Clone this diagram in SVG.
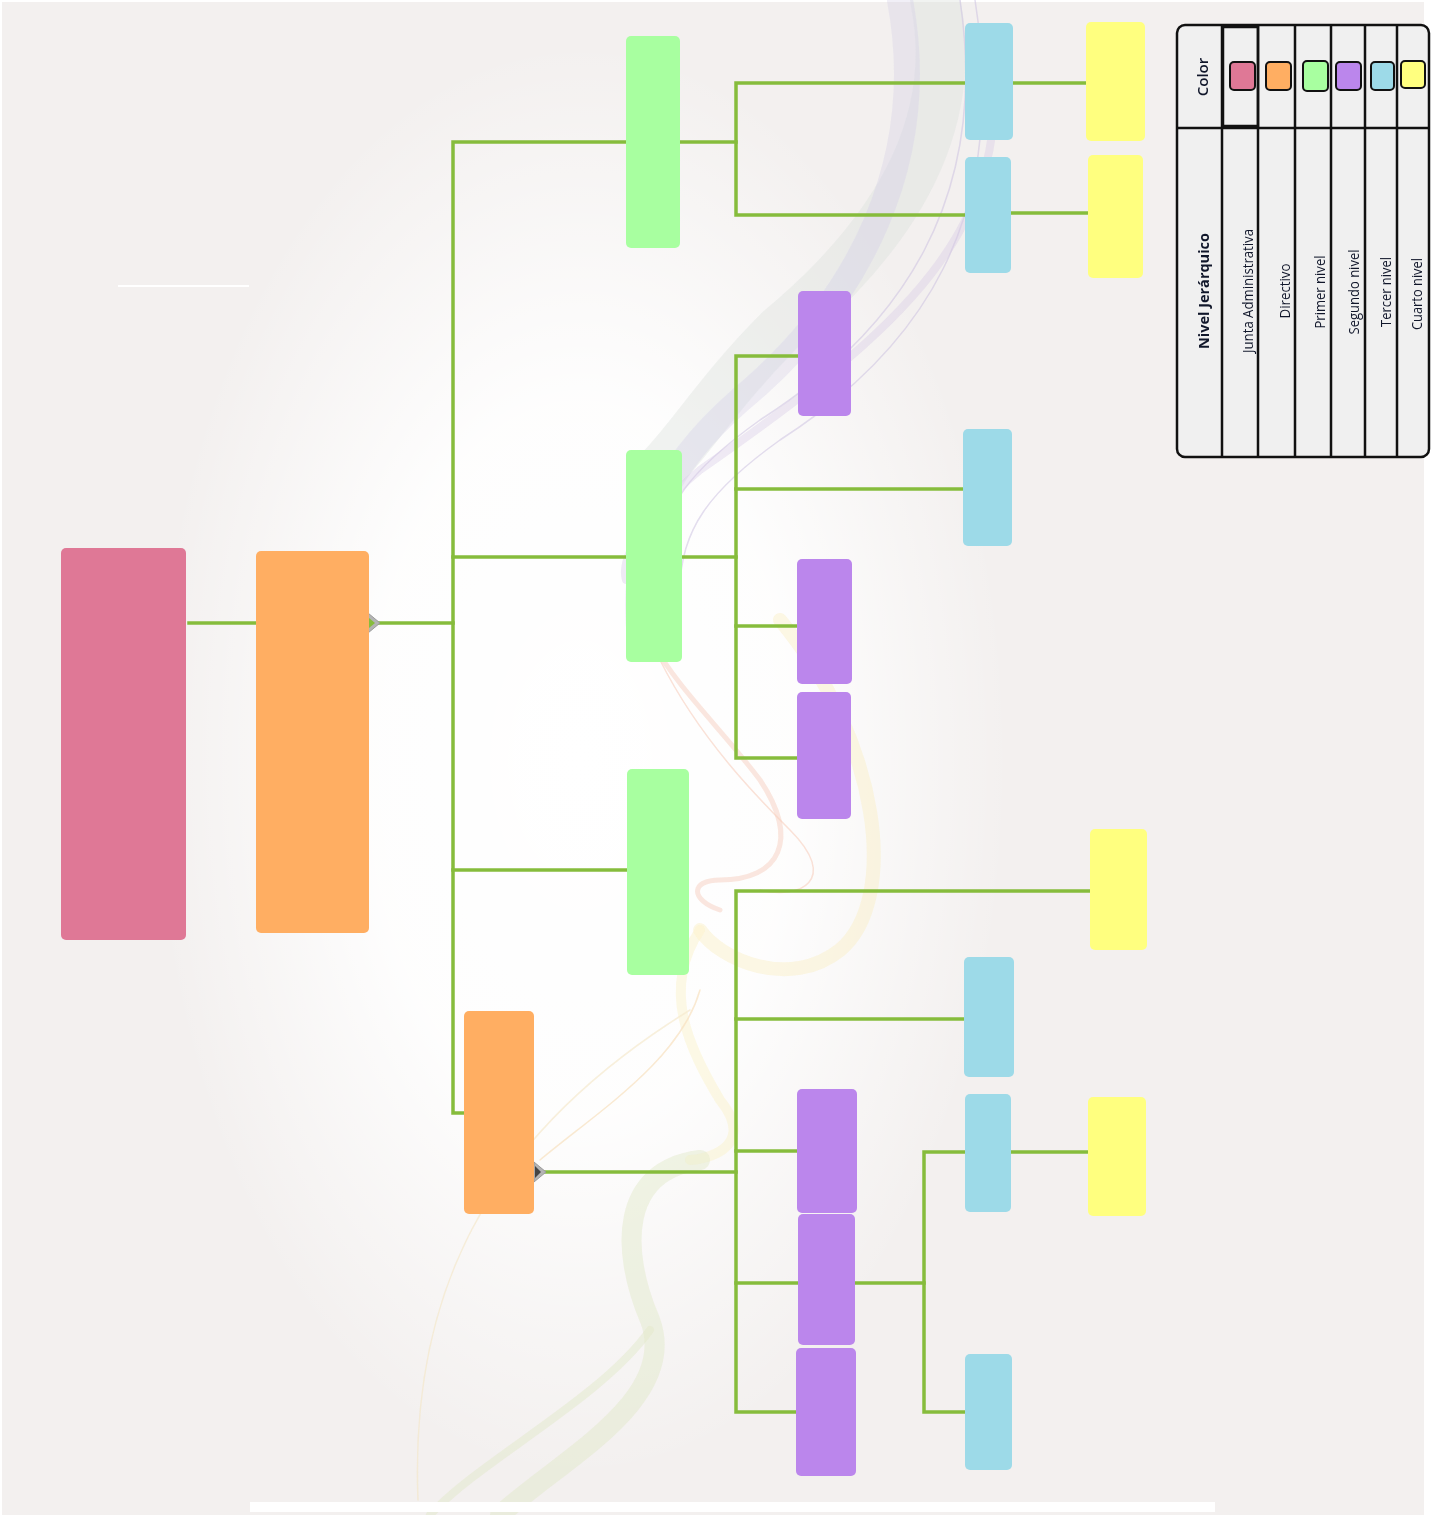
<svg xmlns="http://www.w3.org/2000/svg" width="1437" height="1515" viewBox="0 0 1437 1515">
<defs>
<radialGradient id="glow" cx="0.5" cy="0.5" r="0.5">
<stop offset="0" stop-color="#ffffff" stop-opacity="1"/>
<stop offset="0.5" stop-color="#ffffff" stop-opacity="0.9"/>
<stop offset="1" stop-color="#ffffff" stop-opacity="0"/>
</radialGradient>
<style>
.c{fill:none;stroke:#86bc3c;stroke-width:3.5;stroke-linecap:square}
.pink{fill:#df7896}
.orange{fill:#ffae62}
.green{fill:#a8ffa0}
.purple{fill:#bb86ec}
.blue{fill:#9ddae8}
.yellow{fill:#ffff7f}
.sw{stroke:#111;stroke-width:2}
.lg{fill:none;stroke:#111;stroke-width:2.5}
.lt{font-family:"Open Sans","Liberation Sans",sans-serif;fill:#10162a;text-anchor:middle;dominant-baseline:central}
.rib{fill:none;stroke-linecap:round}
</style>
</defs>
<rect x="0" y="0" width="1437" height="1515" fill="#ffffff"/>
<rect x="2" y="2" width="1422" height="1513" fill="#f3f0ef"/>
<ellipse cx="580" cy="760" rx="430" ry="720" fill="url(#glow)"/>
<g id="decor" opacity="0.85">
<path class="rib" d="M935 0 C960 120 900 230 780 330 C720 390 690 440 660 470" stroke="#d9e0db" stroke-width="50" opacity="0.45"/>
<path class="rib" d="M900 0 C930 160 860 300 740 400 C660 470 630 540 640 640" stroke="#cdc9e4" stroke-width="26" opacity="0.35"/>
<path class="rib" d="M960 0 C990 200 900 330 760 420 C690 470 660 510 660 560" stroke="#c9bedf" stroke-width="1.5" opacity="0.6"/>
<path class="rib" d="M975 0 C1010 220 920 350 780 440 C710 490 680 530 680 590" stroke="#c9bedf" stroke-width="1.5" opacity="0.6"/>
<path class="rib" d="M990 40 C1020 230 900 330 700 470 C640 520 620 560 626 580" stroke="#d2c4e4" stroke-width="8" opacity="0.4"/>
<path class="rib" d="M640 560 C620 640 700 700 760 780 C800 840 780 880 720 880 C690 880 690 900 720 910" stroke="#f5c2ad" stroke-width="5" opacity="0.45"/>
<path class="rib" d="M660 660 C700 740 760 800 790 830 C840 880 800 900 760 890" stroke="#f6c6b2" stroke-width="1.5" opacity="0.6"/>
<path class="rib" d="M780 620 C880 740 900 900 840 950 C790 990 720 960 700 930" stroke="#fbecb2" stroke-width="14" opacity="0.4"/>
<path class="rib" d="M700 930 C660 990 690 1050 720 1100 C760 1150 700 1160 690 1160" stroke="#fbefbc" stroke-width="10" opacity="0.45"/>
<path class="rib" d="M700 1160 C620 1170 620 1250 650 1320 C680 1400 560 1460 500 1515" stroke="#e0e7c4" stroke-width="20" opacity="0.5"/>
<path class="rib" d="M430 1515 C480 1460 600 1400 650 1330" stroke="#e0e7c4" stroke-width="8" opacity="0.5"/>
<path class="rib" d="M418 1500 C410 1300 480 1140 690 1010" stroke="#f4e6c4" stroke-width="1.5" opacity="0.7"/>
<path class="rib" d="M540 1160 C600 1110 680 1060 700 990" stroke="#f7dcb4" stroke-width="1.5" opacity="0.7"/>
</g>
<line x1="118" y1="286" x2="249" y2="286" stroke="#ffffff" stroke-width="2"/>
<rect x="250" y="1502" width="965" height="10" fill="#ffffff"/>
<g id="connectors">
<path class="c" d="M189 623 H256"/>
<path class="c" d="M378 623 H453"/>
<path class="c" d="M626 142 H453 V1113 H464"/>
<path class="c" d="M453 557 H626"/>
<path class="c" d="M453 870 H627"/>
<path class="c" d="M680 142 H736"/>
<path class="c" d="M965 83 H736 V215 H965"/>
<path class="c" d="M1013 83 H1086"/>
<path class="c" d="M1011 213 H1088"/>
<path class="c" d="M682 557 H736"/>
<path class="c" d="M798 356 H736 V758 H797"/>
<path class="c" d="M736 489 H963"/>
<path class="c" d="M736 626 H797"/>
<path class="c" d="M544 1172 H736"/>
<path class="c" d="M1090 891 H736 V1412 H796"/>
<path class="c" d="M736 1019 H964"/>
<path class="c" d="M736 1151 H797"/>
<path class="c" d="M736 1283 H798"/>
<path class="c" d="M855 1283 H924"/>
<path class="c" d="M965 1152 H924 V1412 H965"/>
<path class="c" d="M1011 1152 H1088"/>
</g>
<g id="markers">
<polygon points="368,613 380,623 368,633" fill="#b4b4b4" stroke="#9a9a9a" stroke-width="1"/>
<polygon points="369,618 375,623 369,628" fill="#86bc3c"/>
<polygon points="534,1162 546,1172 534,1182" fill="#b4b4b4" stroke="#9a9a9a" stroke-width="1"/>
<polygon points="535,1166 541,1172 535,1178" fill="#444444"/>
</g>
<g id="n-junta"><rect class="pink" x="61" y="548" width="125" height="392" rx="5"/></g>
<g id="n-directivo1"><rect class="orange" x="256" y="551" width="113" height="382" rx="5"/></g>
<g id="n-directivo2"><rect class="orange" x="464" y="1011" width="70" height="203" rx="5"/></g>
<g id="n-primer1"><rect class="green" x="626" y="36" width="54" height="212" rx="5"/></g>
<g id="n-primer2"><rect class="green" x="626" y="450" width="56" height="212" rx="5"/></g>
<g id="n-primer3"><rect class="green" x="627" y="769" width="62" height="206" rx="5"/></g>
<g id="n-segundo1"><rect class="purple" x="798" y="291" width="53" height="125" rx="5"/></g>
<g id="n-segundo2"><rect class="purple" x="797" y="559" width="55" height="125" rx="5"/></g>
<g id="n-segundo3"><rect class="purple" x="797" y="692" width="54" height="127" rx="5"/></g>
<g id="n-segundo4"><rect class="purple" x="797" y="1089" width="60" height="124" rx="5"/></g>
<g id="n-segundo5"><rect class="purple" x="798" y="1214" width="57" height="131" rx="5"/></g>
<g id="n-segundo6"><rect class="purple" x="796" y="1348" width="60" height="128" rx="5"/></g>
<g id="n-tercer1"><rect class="blue" x="965" y="23" width="48" height="117" rx="5"/></g>
<g id="n-tercer2"><rect class="blue" x="965" y="157" width="46" height="116" rx="5"/></g>
<g id="n-tercer3"><rect class="blue" x="963" y="429" width="49" height="117" rx="5"/></g>
<g id="n-tercer4"><rect class="blue" x="964" y="957" width="50" height="120" rx="5"/></g>
<g id="n-tercer5"><rect class="blue" x="965" y="1094" width="46" height="118" rx="5"/></g>
<g id="n-tercer6"><rect class="blue" x="965" y="1354" width="47" height="116" rx="5"/></g>
<g id="n-cuarto1"><rect class="yellow" x="1086" y="22" width="59" height="119" rx="5"/></g>
<g id="n-cuarto2"><rect class="yellow" x="1088" y="155" width="55" height="123" rx="5"/></g>
<g id="n-cuarto3"><rect class="yellow" x="1090" y="829" width="57" height="121" rx="5"/></g>
<g id="n-cuarto4"><rect class="yellow" x="1088" y="1097" width="58" height="119" rx="5"/></g>
<g id="legend">
<rect x="1177" y="25" width="252" height="432" rx="8" fill="#f0f0f0"/>
<rect x="1177" y="25" width="252" height="432" rx="8" class="lg" stroke-width="3"/>
<line class="lg" x1="1177" y1="128" x2="1429" y2="128"/>
<line class="lg" x1="1222" y1="25" x2="1222" y2="457"/>
<line class="lg" x1="1258" y1="25" x2="1258" y2="457"/>
<line class="lg" x1="1295" y1="25" x2="1295" y2="457"/>
<line class="lg" x1="1331" y1="25" x2="1331" y2="457"/>
<line class="lg" x1="1365" y1="25" x2="1365" y2="457"/>
<line class="lg" x1="1397" y1="25" x2="1397" y2="457"/>
<rect class="lg" x="1223" y="27" width="35" height="99" stroke-width="3"/>
<rect class="pink sw" x="1230" y="62" width="25" height="28" rx="4"/>
<rect class="orange sw" x="1266" y="62" width="25" height="28" rx="4"/>
<rect class="green sw" x="1303" y="61" width="25" height="30" rx="4"/>
<rect class="purple sw" x="1336" y="62" width="25" height="28" rx="4"/>
<rect class="blue sw" x="1371" y="62" width="23" height="28" rx="4"/>
<rect class="yellow sw" x="1401" y="61" width="24" height="27" rx="4"/>
<text class="lt" transform="translate(1202 77) rotate(-90)" font-size="15" font-weight="600">Color</text>
<text class="lt" transform="translate(1203 291) rotate(-90)" font-size="15" font-weight="700" textLength="116" lengthAdjust="spacingAndGlyphs">Nivel Jerárquico</text>
<text class="lt" transform="translate(1247 291) rotate(-90)" font-size="14" font-weight="500" textLength="124" lengthAdjust="spacingAndGlyphs">Junta Administrativa</text>
<text class="lt" transform="translate(1284 291) rotate(-90)" font-size="14" font-weight="500" textLength="55" lengthAdjust="spacingAndGlyphs">Directivo</text>
<text class="lt" transform="translate(1319 292) rotate(-90)" font-size="14" font-weight="500" textLength="73" lengthAdjust="spacingAndGlyphs">Primer nivel</text>
<text class="lt" transform="translate(1353 292) rotate(-90)" font-size="14" font-weight="500" textLength="85" lengthAdjust="spacingAndGlyphs">Segundo nivel</text>
<text class="lt" transform="translate(1385 292) rotate(-90)" font-size="14" font-weight="500" textLength="70" lengthAdjust="spacingAndGlyphs">Tercer nivel</text>
<text class="lt" transform="translate(1416 294) rotate(-90)" font-size="14" font-weight="500" textLength="72" lengthAdjust="spacingAndGlyphs">Cuarto nivel</text>
</g>
</svg>
